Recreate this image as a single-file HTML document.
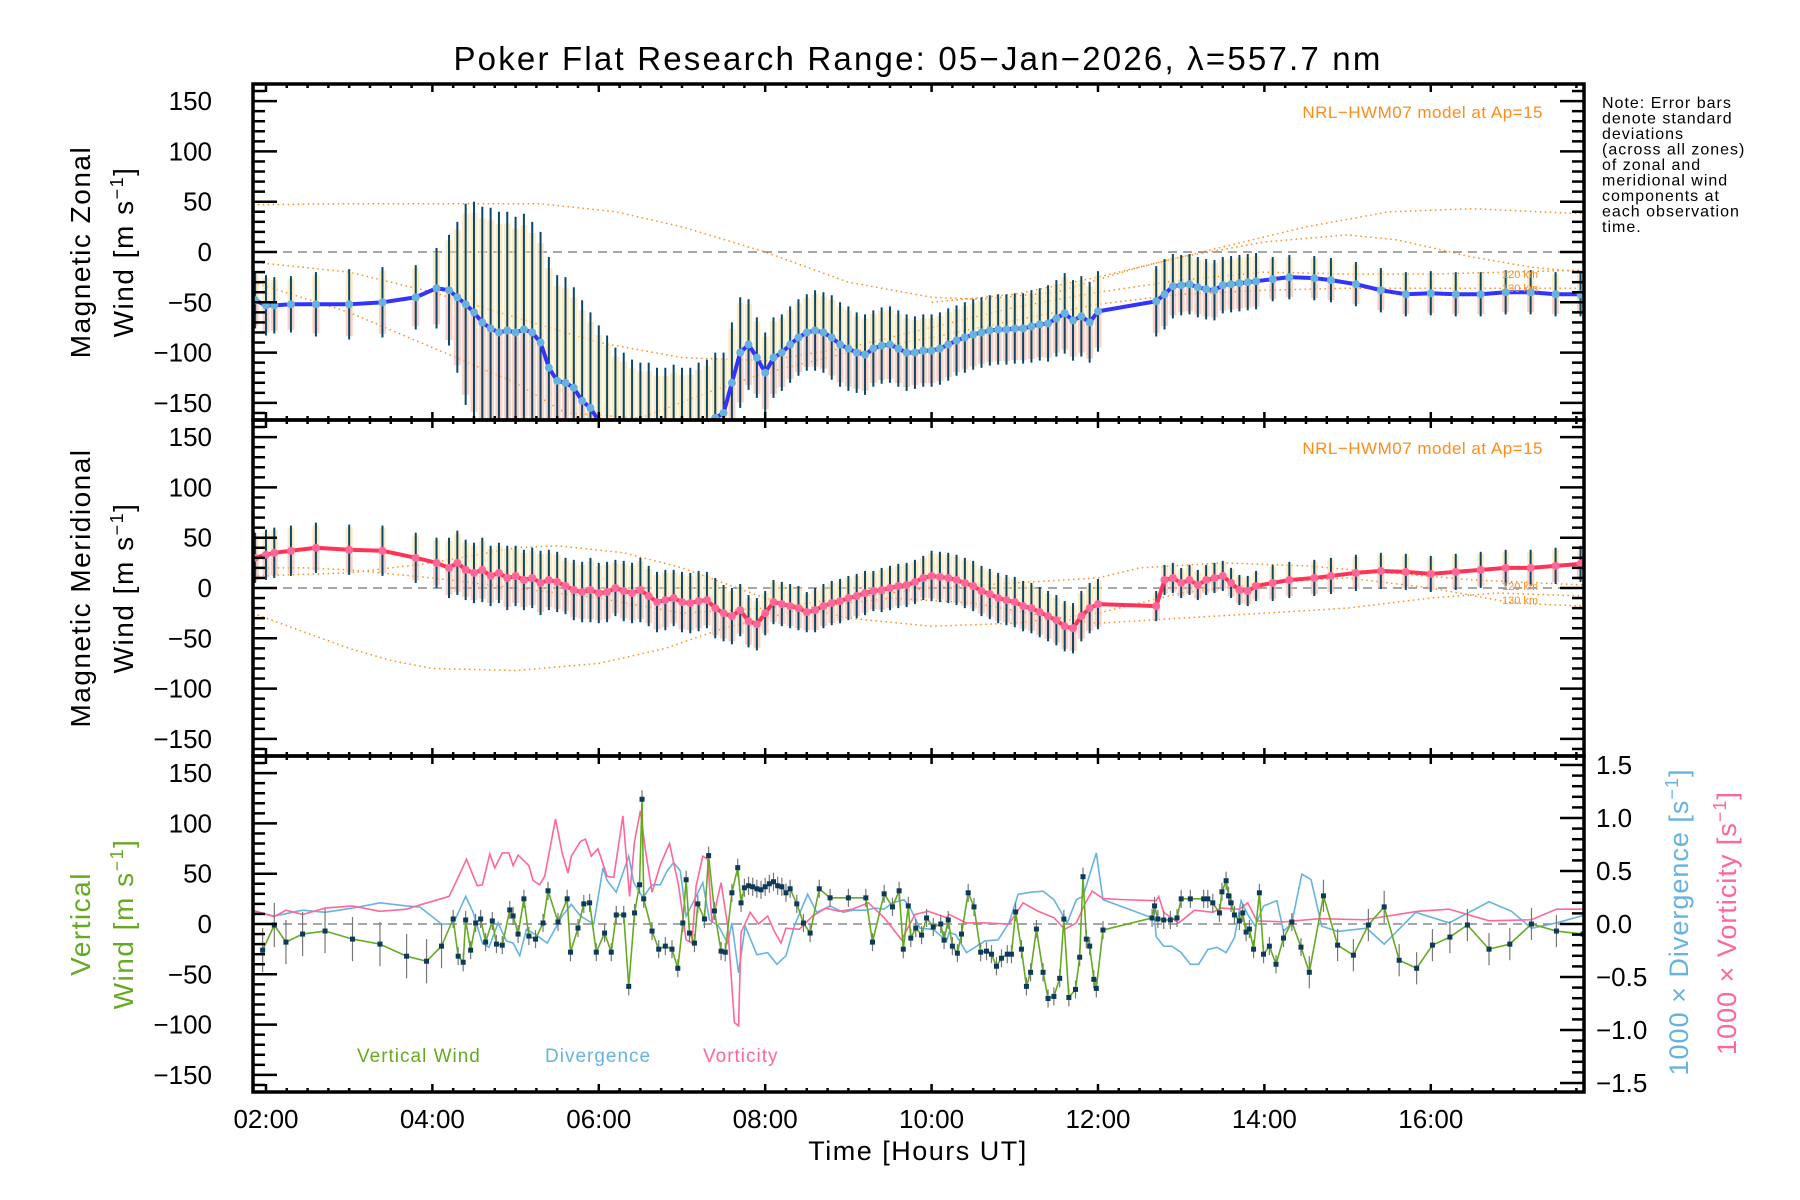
<!DOCTYPE html>
<html><head><meta charset="utf-8"><style>
html,body{margin:0;padding:0;background:#fff;}
svg{display:block;font-family:"Liberation Sans",sans-serif;}
</style></head><body>
<svg id="chart" width="1800" height="1200" viewBox="0 0 1800 1200" xmlns="http://www.w3.org/2000/svg">
<defs>
<clipPath id="c1"><rect x="253" y="84" width="1331" height="336"/></clipPath>
<clipPath id="c2"><rect x="253" y="420" width="1331" height="336"/></clipPath>
<clipPath id="c3"><rect x="253" y="756" width="1331" height="336"/></clipPath>
</defs>
<text x="918" y="70" font-size="33" letter-spacing="2.2" text-anchor="middle">Poker Flat Research Range: 05−Jan−2026, λ=557.7 nm</text>
<g id="p1" clip-path="url(#c1)"></g>
<g id="p2" clip-path="url(#c2)"></g>
<g id="p3" clip-path="url(#c3)"></g>
<g id="axes"></g>
<g font-size="28" letter-spacing="1.5">
<text transform="translate(90,252) rotate(-90)" text-anchor="middle">Magnetic Zonal</text>
<text transform="translate(133,252) rotate(-90)" text-anchor="middle">Wind [m s<tspan dy="-10" font-size="18">−1</tspan><tspan dy="10">]</tspan></text>
</g>
<g font-size="28" letter-spacing="1.5">
<text transform="translate(90,588) rotate(-90)" text-anchor="middle">Magnetic Meridional</text>
<text transform="translate(133,588) rotate(-90)" text-anchor="middle">Wind [m s<tspan dy="-10" font-size="18">−1</tspan><tspan dy="10">]</tspan></text>
</g>
<g font-size="28" letter-spacing="1.5" fill="#66aa22">
<text transform="translate(90,924) rotate(-90)" text-anchor="middle">Vertical</text>
<text transform="translate(133,924) rotate(-90)" text-anchor="middle">Wind [m s<tspan dy="-10" font-size="18">−1</tspan><tspan dy="10">]</tspan></text>
</g>
<text transform="translate(1688,922) rotate(-90)" text-anchor="middle" font-size="27" letter-spacing="1" fill="#66b3e0">1000 × Divergence [s<tspan dy="-10" font-size="18">−1</tspan><tspan dy="10">]</tspan></text>
<text transform="translate(1736,923) rotate(-90)" text-anchor="middle" font-size="27" letter-spacing="1" fill="#ff6699">1000 × Vorticity [s<tspan dy="-10" font-size="18">−1</tspan><tspan dy="10">]</tspan></text>
<text x="918" y="1160" font-size="27" letter-spacing="1.5" text-anchor="middle">Time [Hours UT]</text>
<g font-size="16" letter-spacing="1">
<text x="1602" y="108">Note: Error bars</text>
<text x="1602" y="123.5">denote standard</text>
<text x="1602" y="139">deviations</text>
<text x="1602" y="154.5">(across all zones)</text>
<text x="1602" y="170">of zonal and</text>
<text x="1602" y="185.5">meridional wind</text>
<text x="1602" y="201">components at</text>
<text x="1602" y="216.5">each observation</text>
<text x="1602" y="232">time.</text>
</g>
<text x="1543" y="118" font-size="17" letter-spacing="0.5" text-anchor="end" fill="#ff8c1a">NRL−HWM07 model at Ap=15</text>
<text x="1543" y="454" font-size="17" letter-spacing="0.5" text-anchor="end" fill="#ff8c1a">NRL−HWM07 model at Ap=15</text>
<g font-size="11" fill="#ff8c1a">
<text x="1502" y="278">120 km</text><text x="1502" y="292">130 km</text>
<text x="1502" y="590">120 km</text><text x="1502" y="604">130 km</text>
</g>
<g font-size="19" letter-spacing="1">
<text x="357" y="1062" fill="#66aa22">Vertical Wind</text>
<text x="545" y="1062" fill="#66b3e0">Divergence</text>
<text x="703" y="1062" fill="#ff6699">Vorticity</text>
</g>
</svg>
<script>
const obsT=[1.87,2.0,2.1,2.3,2.6,3.0,3.4,3.8,4.05,
4.2,4.3,4.4,4.5,4.6,4.7,4.8,4.9,5.0,5.1,5.2,5.3,5.4,5.5,5.6,5.7,5.8,5.9,6.0,6.1,6.2,6.3,6.4,6.5,6.6,6.7,6.8,6.9,7.0,7.1,7.2,7.3,7.4,7.5,7.6,7.7,7.8,7.9,8.0,8.1,8.2,8.3,8.4,8.5,8.6,8.7,8.8,8.9,9.0,9.1,9.2,9.3,9.4,9.5,9.6,9.7,9.8,9.9,10.0,10.1,10.2,10.3,10.4,10.5,10.6,10.7,10.8,10.9,11.0,11.1,11.2,11.3,11.4,11.5,11.6,11.7,11.8,11.9,12.0,
12.7,12.8,12.9,13.0,13.1,13.2,13.3,13.4,13.5,13.6,13.7,13.8,13.9,
14.1,14.3,14.6,14.8,15.1,15.4,15.7,16.0,16.3,16.6,16.9,17.2,17.5,17.8];
const zonalMean=[-48,-53,-53,-52,-52,-52,-50,-45,-36,
-38,-45,-52,-60,-70,-76,-80,-78,-80,-77,-80,-90,-115,-128,-130,-135,-148,-155,-168,-178,-185,-190,-192,-195,-195,-195,-195,-192,-190,-185,-180,-172,-165,-160,-130,-100,-92,-105,-120,-105,-100,-92,-85,-80,-78,-80,-85,-92,-96,-100,-102,-96,-93,-92,-96,-100,-100,-98,-98,-96,-92,-88,-85,-82,-80,-78,-77,-77,-76,-76,-74,-72,-71,-66,-61,-68,-64,-70,-59,
-49,-42,-34,-33,-32,-35,-37,-38,-33,-32,-31,-30,-29,
-27,-25,-26,-28,-32,-38,-42,-41,-42,-42,-40,-40,-42,-42];
const zonalSd=[28,30,28,28,32,35,35,32,40,
55,75,100,110,115,120,120,118,115,115,110,110,110,105,105,100,100,95,95,95,90,90,85,85,85,80,80,80,75,70,70,65,65,60,60,55,45,40,40,40,38,38,38,38,40,40,42,42,42,40,40,38,38,38,38,38,36,36,36,36,36,35,35,35,35,35,35,35,35,35,36,36,38,38,40,40,40,40,40,
35,35,32,30,30,30,30,30,28,28,28,28,28,
22,22,22,22,22,22,22,22,22,22,22,22,22,22];
const meridMean=[30,33,35,37,40,38,37,30,25,
20,25,18,15,18,12,15,10,12,8,10,5,8,6,2,-2,-4,-2,-5,-4,0,-3,-5,-2,-8,-14,-12,-10,-14,-15,-13,-12,-20,-25,-28,-22,-33,-36,-25,-14,-16,-18,-20,-24,-22,-18,-15,-13,-10,-8,-5,-3,-2,0,2,3,6,10,12,11,10,8,5,2,-3,-6,-10,-12,-14,-18,-20,-24,-28,-32,-38,-40,-28,-20,-16,
-18,8,10,5,8,3,8,10,12,5,-2,-3,2,
5,8,10,12,15,17,16,14,16,18,20,20,22,24];
const meridSd=[25,25,25,25,25,25,25,25,25,
30,32,30,30,32,30,30,32,30,30,30,32,30,30,28,30,30,32,30,30,28,30,30,32,30,30,30,28,30,30,30,28,30,28,28,26,26,26,22,22,22,22,22,20,22,22,22,22,22,22,22,20,22,22,22,22,22,22,25,25,25,25,25,25,25,25,25,25,25,25,25,25,25,25,25,25,25,25,25,
15,15,15,15,15,15,15,15,15,15,15,15,15,
18,18,18,18,18,18,18,18,18,18,18,18,18,18];
const zonalModelA=[[1.84,47],[3,48],[5.3,48],[6.2,40],[7,25],[8,0],[9,-30],[10,-45],[10.6,-47],[11.5,-40],[12.5,-15],[13.5,5],[14.5,25],[15.5,40],[16.5,43],[17.84,38]];
const zonalModelB=[[1.84,-10],[3,-20],[4,-40],[5,-65],[6,-90],[7,-105],[8,-108],[9,-95],[10,-75],[11,-55],[12,-40],[13,-28],[14,-20],[15,-22],[16,-22],[17.84,-18]];
const zonalModelC=[[1.84,-30],[3,-60],[4,-95],[5,-130],[5.6,-160],[6.5,-165],[7.3,-140],[8,-120],[9,-100],[10,-85],[11,-68],[12,-52],[13,-42],[14,-38],[15,-36],[16,-36],[17.84,-36]];
const zonalModelD=[[10,-50],[11,-42],[12,-25],[13,-5],[14,10],[15,17],[15.6,12],[16.5,-5],[17.2,-15],[17.84,-20]];
const meridModelA=[[1.84,12],[3,15],[4,25],[5,40],[5.5,42],[6.3,35],[7,20],[8,-10],[9,-30],[10,-38],[11,-35],[12,-25],[13,-5],[14,5],[15,10],[16,0],[17,-15],[17.84,-18]];
const meridModelB=[[1.84,20],[2.5,20],[3,18],[4,10],[5,0],[6,-10],[7,-25],[8,-20],[9,-10],[10,0],[11,5],[12,10],[12.5,20],[13.5,25],[14.5,22],[15.5,15],[16.5,8],[17.84,3]];
const meridModelC=[[1.84,-25],[2.5,-45],[3,-60],[3.5,-72],[4,-80],[5,-82],[6,-75],[6.8,-60],[7.5,-40],[8.5,-20],[9.5,-10],[10.5,-15],[11.5,-30],[12,-35],[13,-30],[14,-25],[15,-20],[16,-10],[16.8,-5],[17.84,-8]];
const wT=[1.96,2.10,2.24,2.44,2.71,3.04,3.37,3.69,3.93,4.11,
4.25,4.31,4.37,4.40,4.46,4.52,4.58,4.64,4.72,4.77,
4.84,4.93,4.97,5.03,5.10,5.16,5.24,5.33,5.39,5.51,
5.62,5.66,5.75,5.82,5.89,5.97,6.07,6.15,6.21,6.30,
6.36,6.43,6.49,6.52,6.54,6.64,6.72,6.80,6.88,6.95,
7.01,7.05,7.09,7.15,7.19,7.27,7.32,7.39,7.47,7.52,7.60,7.67,7.71,
7.75,7.80,7.85,7.90,7.95,8.00,8.05,8.10,8.15,8.20,8.25,8.30,8.38,
8.46,8.54,8.65,8.78,9.00,9.21,9.29,9.43,9.53,9.61,
9.66,9.72,9.75,9.81,9.88,9.94,10.02,10.11,10.15,10.2,
10.25,10.31,10.36,10.44,10.51,10.59,10.66,10.72,10.78,10.84,
10.91,10.96,11.01,11.08,11.14,11.19,11.26,11.34,11.4,11.47,
11.54,11.59,11.65,11.73,11.78,11.82,11.86,11.9,11.95,11.98,12.06,
12.65,12.68,12.72,12.79,12.87,12.95,13.0,13.11,13.27,13.32,
13.38,13.46,13.49,13.54,13.57,13.6,13.64,13.7,13.74,13.78,
13.82,13.87,13.94,13.99,14.06,14.14,14.23,14.33,14.44,14.54,
14.71,14.88,15.07,15.25,15.44,15.62,15.83,16.02,16.23,16.44,
16.7,16.95,17.21,17.51,17.83];
const wV=[-26,-1,-18,-10,-7,-15,-20,-32,-37,-22,
5,-32,-38,4,-26,1,5,-18,3,-20,
-21,14,8,-10,25,-12,-15,1,33,2,
25,-28,-4,20,21,-28,-9,-28,9,9,
-62,11,39,124,25,-7,-25,-22,-25,-44,
1,44,-9,-19,20,5,68,13,-27,-28,31,56,21,
36,38,37,35,34,37,40,42,38,37,31,35,20,
1,-9,35,26,26,26,-18,30,17,33,
-25,18,-14,-4,-11,6,-3,0,-16,4,
-22,-29,-10,31,17,-28,-27,-30,-42,-34,
-30,-30,12,-25,-62,-48,-5,-48,-74,-72,
-54,5,-73,-65,-33,47,-15,-22,-55,-64,-6,
6,18,5,4,4,6,25,25,25,25,
21,11,32,43,28,21,9,3,11,-8,
-5,-25,31,-30,-22,-40,-14,2,-23,-48,
28,-21,-31,-1,17,-36,-44,-21,-13,-1,
-25,-20,0,-7,-10];
const divT=[1.84,2.10,2.44,2.71,3.04,3.37,3.69,3.85,4.11,4.25,4.40,4.49,4.60,4.68,4.79,4.89,4.97,5.05,5.13,5.24,5.38,5.56,5.67,5.78,5.94,6.05,6.10,6.21,6.36,6.42,6.53,6.64,6.74,6.82,6.9,6.98,7.05,7.17,7.25,7.33,7.44,7.55,7.6,7.68,7.76,7.9,8.03,8.14,8.25,8.35,8.51,8.62,8.78,8.94,9.05,9.21,9.32,9.43,9.53,9.67,9.75,9.86,10.02,10.18,10.21,10.29,10.42,10.64,10.8,10.93,11.04,11.2,11.34,11.47,11.63,11.74,11.82,11.98,12.06,12.68,12.7,12.79,12.89,13.0,13.11,13.21,13.32,13.43,13.54,13.64,13.72,13.8,13.89,13.99,14.15,14.23,14.33,14.45,14.56,14.69,14.88,15.23,15.44,15.82,16.22,16.7,16.97,17.21,17.51,17.83];
const divV=[0.12,0.075,0.13,0.11,0.15,0.20,0.17,0.16,0.0,0.0,0.26,0.11,-0.18,-0.22,0.01,-0.16,-0.18,-0.30,-0.05,-0.10,-0.18,0.075,0.185,0.075,0.0,0.53,0.41,0.30,0.64,0.39,0.25,0.37,0.37,0.50,0.58,0.50,0.075,0.26,0.39,0.04,-0.02,-0.18,0.01,-0.46,-0.02,-0.29,-0.27,-0.38,-0.30,-0.02,0.28,0.11,0.17,0.11,0.13,0.13,0.15,0.14,0.20,0.23,0.14,-0.04,-0.05,-0.16,-0.08,-0.10,-0.27,-0.16,-0.15,0.01,0.28,0.30,0.31,0.23,0.01,0.23,0.26,0.67,0.23,0.05,-0.12,-0.21,-0.21,-0.27,-0.38,-0.38,-0.24,-0.22,-0.27,-0.13,0.22,0.09,-0.02,0.17,0.22,-0.07,0.01,0.47,0.42,-0.02,-0.07,-0.04,-0.19,0.11,0.01,0.21,0.12,-0.04,0.01,0.08];
const vorT=[1.84,2.1,2.24,2.44,2.71,3.04,3.37,3.69,3.85,4.2,4.28,4.41,4.54,4.6,4.69,4.75,4.84,4.92,4.97,5.03,5.16,5.21,5.29,5.35,5.48,5.56,5.63,5.67,5.78,5.84,5.91,5.99,6.1,6.18,6.29,6.37,6.43,6.5,6.56,6.64,6.74,6.85,6.96,7.05,7.12,7.17,7.25,7.31,7.36,7.47,7.55,7.63,7.68,7.71,7.82,7.92,8.03,8.11,8.19,8.25,8.41,8.57,8.73,8.89,9.05,9.24,9.43,9.64,9.8,9.96,10.18,10.21,10.42,10.64,10.93,11.1,11.28,11.47,11.6,11.74,11.85,11.93,12.06,12.3,12.7,12.73,12.79,12.97,13.16,13.38,13.48,13.7,13.8,13.91,14.23,14.66,15.2,15.84,16.22,16.7,17.21,17.51,17.83];
const vorV=[0.13,0.07,0.13,0.09,0.15,0.17,0.12,0.14,0.18,0.26,0.39,0.61,0.36,0.37,0.66,0.53,0.67,0.67,0.55,0.65,0.55,0.41,0.37,0.45,0.99,0.67,0.48,0.64,0.78,0.80,0.64,0.71,0.45,0.44,1.02,0.26,0.78,1.07,0.70,0.30,0.56,0.76,0.36,-0.15,-0.18,0.36,0.64,0.61,0.01,0.39,-0.02,-0.93,-0.96,-0.08,0.11,0.0,0.075,-0.07,-0.18,-0.04,-0.05,0.075,0.15,0.12,0.14,0.20,0.06,-0.15,0.09,0.12,0.06,0.09,0.01,0.01,0.0,0.20,0.12,0.06,-0.05,0.01,0.20,0.31,0.24,0.23,0.22,0.26,0.11,0.01,0.13,0.11,0.15,0.14,0.20,0.03,0.02,0.05,0.04,0.12,0.14,0.03,0.04,0.14,0.14];
const yTickVals=[150,100,50,0,-50,-100,-150];
const rTickLabels=["1.5","1.0","0.5","0.0","−0.5","−1.0","−1.5"];
const xTickLabels=["02:00","04:00","06:00","08:00","10:00","12:00","14:00","16:00"];

const NS="http://www.w3.org/2000/svg";
const X0=253,X1=1584,T0=1.844,PXH=83.2;
const centers=[252,588,924],HALF=168,VR=167,RR=1.585;
function xs(t){return X0+(t-T0)*PXH;}
function ys(p,v){return centers[p]-v*HALF/VR;}
function yr(v){return centers[2]-v*HALF/RR;}
function mk(tag,attrs,parent){const e=document.createElementNS(NS,tag);for(const k in attrs)e.setAttribute(k,attrs[k]);parent.appendChild(e);return e;}
const g1=document.getElementById('p1'),g2=document.getElementById('p2'),g3=document.getElementById('p3'),ax=document.getElementById('axes');

function zeroLine(g,p){const l=mk('line',{x1:X0,x2:X1,y1:ys(p,0),y2:ys(p,0),stroke:'#888','stroke-width':1.5,'stroke-dasharray':'9,6'},g);

}
function model(g,p,arr,name){const pl=mk('polyline',{points:arr.map(d=>xs(d[0])+','+ys(p,d[1])).join(' '),fill:'none',stroke:'#ff8c1a','stroke-width':1.5,'stroke-dasharray':'1.5,3.5'},g);

}
function windPanel(g,p,mean,sd,lineC,dotC,prefix){
  zeroLine(g,p);
  const band=mk('g',{},g);
  
  
  obsT.forEach((t,i)=>{const x=xs(t),m=mean[i],s=sd[i]*0.9;
    mk('rect',{x:x-3.5,y:ys(p,m),width:7,height:ys(p,m-s)-ys(p,m),fill:'#f8b8a8',opacity:0.65},band);
    mk('rect',{x:x-3.5,y:ys(p,m+s),width:7,height:ys(p,m)-ys(p,m+s),fill:'#fbe2a8',opacity:0.65},band);});
  const eb=mk('g',{stroke:'#0b4866','stroke-width':2},g);
  
  
  obsT.forEach((t,i)=>{mk('line',{x1:xs(t),x2:xs(t),y1:ys(p,mean[i]+sd[i]),y2:ys(p,mean[i]-sd[i])},eb);});
  const ml=mk('polyline',{points:obsT.map((t,i)=>xs(t)+','+ys(p,mean[i])).join(' '),fill:'none',stroke:lineC,'stroke-width':4},g);
  
  
  const dg=mk('g',{fill:dotC},g);
  
  
  obsT.forEach((t,i)=>{mk('circle',{cx:xs(t),cy:ys(p,mean[i]),r:4},dg);});
}
model(g1,0,zonalModelA,'zonal-model-a');model(g1,0,zonalModelB,'zonal-model-b');model(g1,0,zonalModelC,'zonal-model-c');model(g1,0,zonalModelD,'zonal-model-d');
windPanel(g1,0,zonalMean,zonalSd,'#3333ff','#66b3e0','zonal');
model(g2,1,meridModelA,'meridional-model-a');model(g2,1,meridModelB,'meridional-model-b');model(g2,1,meridModelC,'meridional-model-c');
windPanel(g2,1,meridMean,meridSd,'#ff3355','#ff6699','meridional');

zeroLine(g3,2);
const dl=mk('polyline',{points:divT.map((t,i)=>xs(t)+','+yr(divV[i])).join(' '),fill:'none',stroke:'#66b3e0','stroke-width':1.6},g3);


const vl=mk('polyline',{points:vorT.map((t,i)=>xs(t)+','+yr(vorV[i])).join(' '),fill:'none',stroke:'#ff6699','stroke-width':1.6},g3);


const web=mk('g',{stroke:'#777','stroke-width':1.2},g3);


wT.forEach((t,i)=>{const e=t<4.2?22:(t>14.5?16:9);mk('line',{x1:xs(t),x2:xs(t),y1:ys(2,wV[i]+e),y2:ys(2,wV[i]-e)},web);});
const wl=mk('polyline',{points:wT.map((t,i)=>xs(t)+','+ys(2,wV[i])).join(' '),fill:'none',stroke:'#66aa22','stroke-width':1.6},g3);


const wm=mk('g',{fill:'#0b3a5a'},g3);


wT.forEach((t,i)=>{mk('rect',{x:xs(t)-2.5,y:ys(2,wV[i])-2.5,width:5,height:5},wm);});

const tg=mk('g',{stroke:'#000','stroke-width':2.5},ax);


for(let p=0;p<3;p++){
  for(let v=-160;v<=160;v+=10){const y=ys(p,v);if(y<centers[p]-HALF||y>centers[p]+HALF)continue;const L=(v%50===0)?24:12;
    mk('line',{x1:X0,x2:X0+L,y1:y,y2:y},tg);
    if(p<2)mk('line',{x1:X1,x2:X1-L,y1:y,y2:y},tg);}
  const top=centers[p]-HALF,bot=centers[p]+HALF;
  for(let k=0;k<=64;k++){const t=2+k*0.25-0.25;const x=xs(t);if(x<X0||x>X1)continue;const L=(Math.abs(t-Math.round(t))<1e-6&&Math.round(t)%2===0)?8:4;
    mk('line',{x1:x,x2:x,y1:top,y2:top+L},tg);mk('line',{x1:x,x2:x,y1:bot,y2:bot-L},tg);}
}
for(let k=-15;k<=15;k++){const v=k/10;const y=yr(v);const L=(k%5===0)?24:12;mk('line',{x1:X1,x2:X1-L,y1:y,y2:y},tg);}
const fr=mk('g',{fill:'none',stroke:'#000','stroke-width':3.5},ax);


for(let p=0;p<3;p++)mk('rect',{x:X0,y:centers[p]-HALF,width:X1-X0,height:2*HALF},fr);
const lg=mk('g',{'font-size':26,'text-anchor':'end'},ax);


for(let p=0;p<3;p++)yTickVals.forEach(v=>{const t=mk('text',{x:212,y:ys(p,v)+9},lg);t.textContent=(v<0?'−':'')+Math.abs(v);});
const rg=mk('g',{'font-size':26},ax);


rTickLabels.forEach((s,i)=>{const t=mk('text',{x:1596,y:yr(1.5-i*0.5)+9},rg);t.textContent=s;});
const xg=mk('g',{'font-size':26,'text-anchor':'middle'},ax);


xTickLabels.forEach((s,i)=>{const t=mk('text',{x:xs(2+2*i),y:1128},xg);t.textContent=s;});
</script>
</body></html>
